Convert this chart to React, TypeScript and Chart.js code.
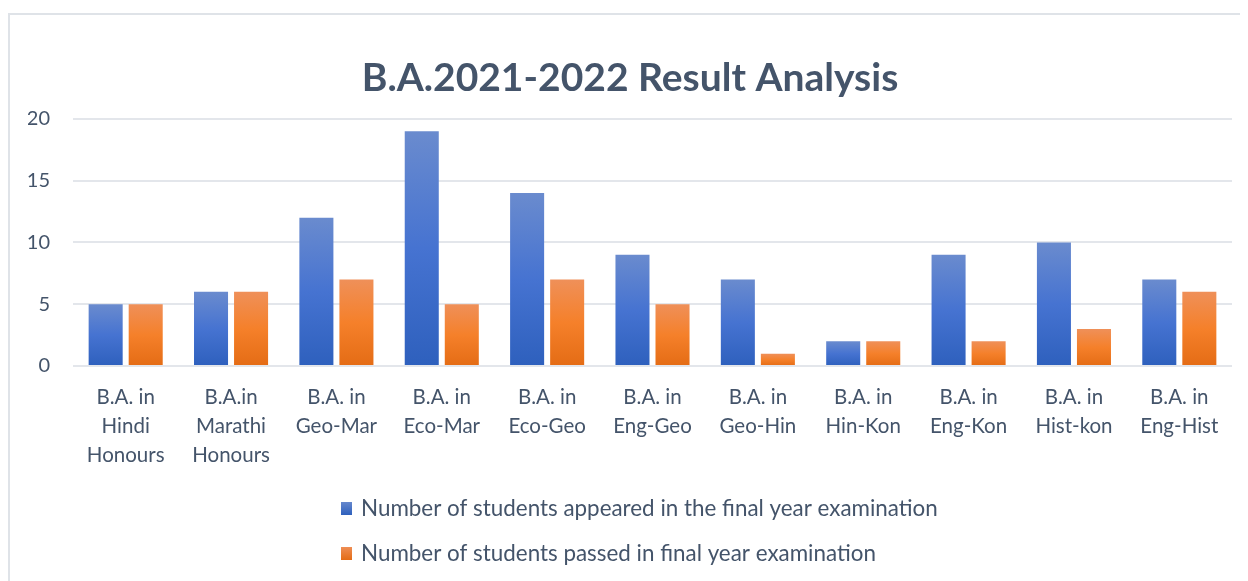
import React, { useEffect, useRef } from "react";
import { Chart, registerables } from "chart.js";

Chart.register(...registerables);

const categories: string[][] = [
  ["B.A. in", "Hindi", "Honours"],
  ["B.A.in", "Marathi", "Honours"],
  ["B.A. in", "Geo-Mar"],
  ["B.A. in", "Eco-Mar"],
  ["B.A. in", "Eco-Geo"],
  ["B.A. in", "Eng-Geo"],
  ["B.A. in", "Geo-Hin"],
  ["B.A. in", "Hin-Kon"],
  ["B.A. in", "Eng-Kon"],
  ["B.A. in", "Hist-kon"],
  ["B.A. in", "Eng-Hist"],
];
const appeared: number[] = [5, 6, 12, 19, 14, 9, 7, 2, 9, 10, 7];
const passed: number[] = [5, 6, 7, 5, 7, 5, 1, 2, 2, 3, 6];
const seriesNames: string[] = [
  "Number of students appeared in the final year examination",
  "Number of students passed in final year examination",
];
const yTicks: number[] = [0, 5, 10, 15, 20];

const TEXT = "#44546A";
const FONT = "Lato";
const BLUE = ["#6a8bce", "#4673d1", "#2e60bd"];
const ORANGE = ["#ef9059", "#f5802a", "#e46c15"];

function barGradient(ctx: any, stops: string[]) {
  const chart = ctx.chart;
  const y = chart.scales?.y;
  if (!y || !chart.chartArea || ctx.type !== "data") return stops[1];
  const v = ctx.parsed?.y ?? 0;
  const top = y.getPixelForValue(v);
  const bottom = y.getPixelForValue(0);
  if (!isFinite(top) || !isFinite(bottom) || top === bottom) return stops[1];
  const g = chart.ctx.createLinearGradient(0, top, 0, bottom);
  g.addColorStop(0, stops[0]);
  g.addColorStop(0.5, stops[1]);
  g.addColorStop(1, stops[2]);
  return g;
}

const legendPlugin = {
  id: "stackedLegend",
  afterDraw(chart: any) {
    const c = chart.ctx;
    c.save();
    c.font = `22.4px ${FONT}`;
    c.textBaseline = "middle";
    c.fillStyle = TEXT;
    const rows = [500, 545];
    const x0 = 333;
    [BLUE, ORANGE].forEach((stops, i) => {
      const cy = rows[i];
      const g = c.createLinearGradient(0, cy - 7, 0, cy + 7);
      g.addColorStop(0, stops[0]);
      g.addColorStop(1, stops[2]);
      c.fillStyle = g;
      c.fillRect(x0, cy - 6, 11, 13);
      c.fillStyle = TEXT;
      c.fillText(seriesNames[i], x0 + 20, cy + 1);
    });
    c.restore();
  },
};

export default function App() {
  const ref = useRef<HTMLCanvasElement | null>(null);
  useEffect(() => {
    if (!ref.current) return;
    const chart = new Chart(ref.current, {
      type: "bar",
      data: {
        labels: categories,
        datasets: [
          {
            label: seriesNames[0],
            data: appeared,
            backgroundColor: (ctx: any) => barGradient(ctx, BLUE),
            categoryPercentage: 0.76,
            barPercentage: 0.85,
          },
          {
            label: seriesNames[1],
            data: passed,
            backgroundColor: (ctx: any) => barGradient(ctx, ORANGE),
            categoryPercentage: 0.76,
            barPercentage: 0.85,
          },
        ],
      },
      options: {
        animation: false,
        responsive: false,
        maintainAspectRatio: false,
        layout: { padding: { left: 20, right: 16, top: 0, bottom: 0 } },
        plugins: {
          legend: { display: false },
          tooltip: { enabled: false },
          title: {
            display: true,
            text: "B.A.2021-2022 Result Analysis",
            color: TEXT,
            font: { family: FONT, size: 39, weight: "bold", lineHeight: 1.2 },
            padding: { top: 47, bottom: 17 },
          },
        },
        scales: {
          x: {
            grid: { display: false, drawTicks: false },
            border: { display: false },
            ticks: {
              color: TEXT,
              font: { family: FONT, size: 20.5, lineHeight: 1.42 },
              padding: 17,
              maxRotation: 0,
              autoSkip: false,
            },
            afterFit: (s: any) => {
              s.height = 215;
            },
          },
          y: {
            min: 0,
            max: 20,
            afterBuildTicks: (s: any) => {
              s.ticks = yTicks.map((v) => ({ value: v }));
            },
            grid: { color: "#e3e6eb", lineWidth: 2, drawTicks: false },
            border: { display: false },
            ticks: {
              color: TEXT,
              font: { family: FONT, size: 20 },
              padding: 23,
            },
            afterFit: (s: any) => {
              s.width = 45;
            },
          },
        },
      },
      plugins: [legendPlugin],
    } as any);
    return () => chart.destroy();
  }, []);
  return (
    <div style={{ position: "relative", width: 1240, height: 573 }}>
      <div
        style={{
          position: "absolute",
          left: 0,
          top: 5,
          width: 1240,
          height: 580,
          borderTop: "2px solid #dfe3e8",
          borderLeft: "2px solid #dfe3e8",
          boxSizing: "border-box",
        }}
      />
      <canvas
        ref={ref}
        width={1240}
        height={573}
        style={{ position: "absolute", left: 0, top: 0, width: 1240, height: 573 }}
      />
    </div>
  );
}
